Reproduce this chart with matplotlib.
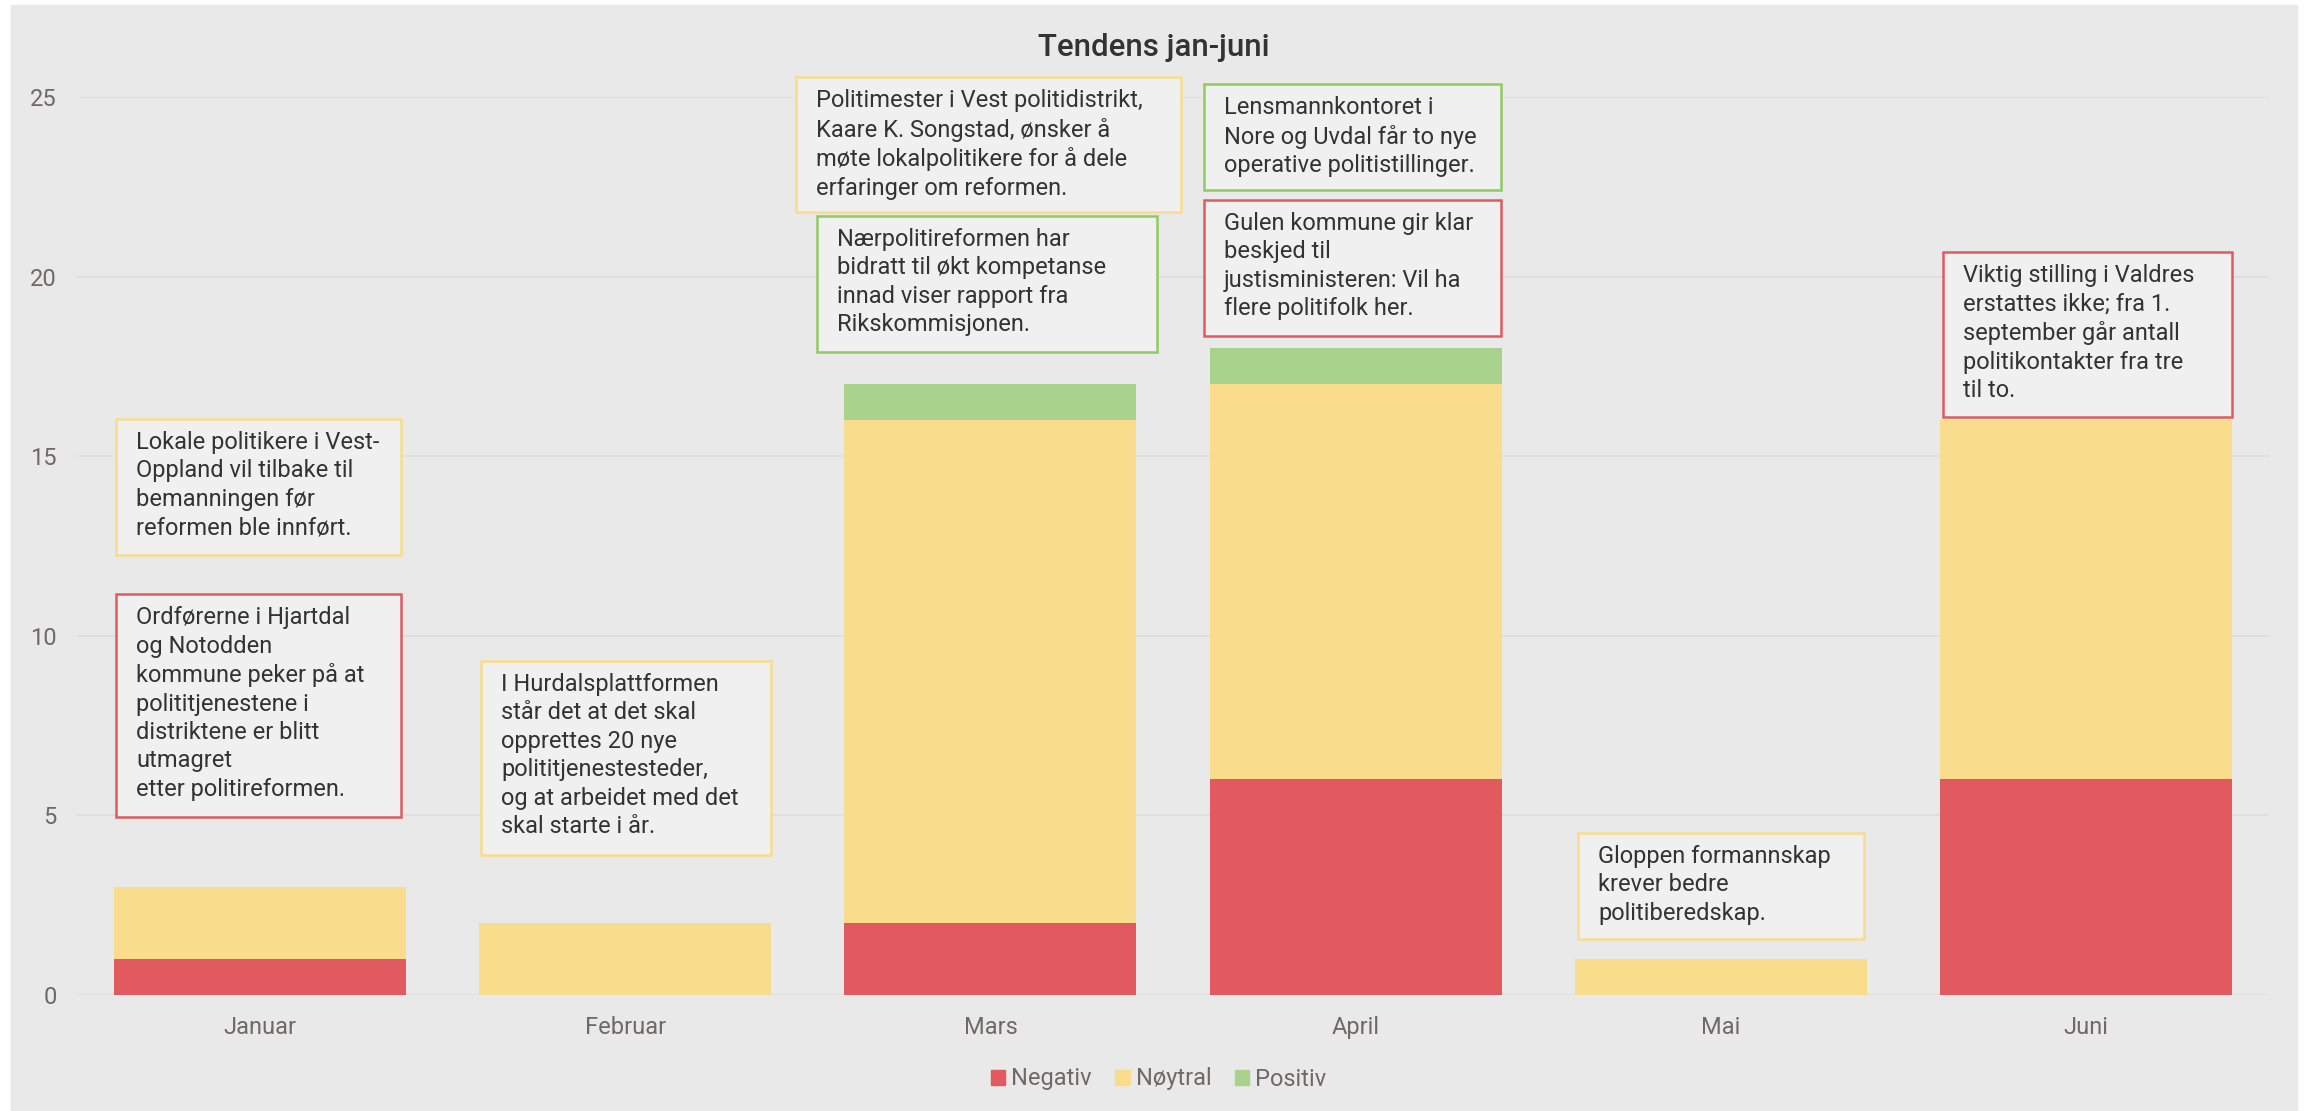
import numpy as np
from matplotlib import pyplot as plt
from matplotlib.patches import Rectangle, Patch

plt.rcParams["font.family"] = ["Roboto", "DejaVu Sans"]

months = ["Januar", "Februar", "Mars", "April", "Mai", "Juni"]
negativ = [1, 0, 2, 6, 0, 6]
noytral = [2, 2, 14, 11, 1, 10]
positiv = [0, 0, 1, 1, 0, 0]
series_names = ["Negativ", "Nøytral", "Positiv"]
y_ticks = [0, 5, 10, 15, 20, 25]

BG = "#e8e9e8"
RED = "#e15a60"
YELLOW = "#fadd8c"
GREEN = "#a9d38d"
EDGE_RED = "#e15a60"
EDGE_YELLOW = "#f9dc8c"
EDGE_GREEN = "#8fcb5e"
TEXT = "#333333"
TICK = "#6e6a6a"

# annotation boxes: (text, colour, x-left, x-right, y-top, y-bottom) in data units
notes = [
    ("Lokale politikere i Vest-\nOppland vil tilbake til\nbemanningen før\nreformen ble innført.",
     EDGE_YELLOW, -0.394, 0.386, 16.04, 12.25),
    ("Ordførerne i Hjartdal\nog Notodden\nkommune peker på at\npolititjenestene i\ndistriktene er blitt\nutmagret\netter politireformen.",
     EDGE_RED, -0.394, 0.386, 11.16, 4.96),
    ("I Hurdalsplattformen\nstår det at det skal\nopprettes 20 nye\npolititjenestesteder,\nog at arbeidet med det\nskal starte i år.",
     EDGE_YELLOW, 0.605, 1.40, 9.30, 3.90),
    ("Politimester i Vest politidistrikt,\nKaare K. Songstad, ønsker å\nmøte lokalpolitikere for å dele\nerfaringer om reformen.",
     EDGE_YELLOW, 1.468, 2.522, 25.56, 21.80),
    ("Nærpolitireformen har\nbidratt til økt kompetanse\ninnad viser rapport fra\nRikskommisjonen.",
     EDGE_GREEN, 1.525, 2.456, 21.69, 17.90),
    ("Lensmannkontoret i\nNore og Uvdal får to nye\noperative politistillinger.",
     EDGE_GREEN, 2.585, 3.398, 25.36, 22.41),
    ("Gulen kommune gir klar\nbeskjed til\njustisministeren: Vil ha\nflere politifolk her.",
     EDGE_RED, 2.585, 3.398, 22.13, 18.35),
    ("Gloppen formannskap\nkrever bedre\npolitiberedskap.",
     EDGE_YELLOW, 3.609, 4.392, 4.51, 1.56),
    ("Viktig stilling i Valdres\nerstattes ikke; fra 1.\nseptember går antall\npolitikontakter fra tre\ntil to.",
     EDGE_RED, 4.609, 5.400, 20.68, 16.10),
]


def main():
    W, H = 2308, 1111
    fig = plt.figure(figsize=(W / 100, H / 100), dpi=100)
    fig.patches.append(Rectangle((11 / W, 0), (W - 22) / W, (H - 5) / H,
                                 transform=fig.transFigure, color=BG, zorder=-10))

    ax = fig.add_axes([77.4 / W, 1 - 995 / H, (2268.6 - 77.4) / W, (995 - 97) / H])
    ax.set_facecolor("none")
    ax.set_zorder(2)

    x = np.arange(len(months))
    neg = np.array(negativ)
    noy = np.array(noytral)
    pos = np.array(positiv)
    ax.bar(x, neg, width=0.8, color=RED, zorder=2)
    ax.bar(x, noy, width=0.8, bottom=neg, color=YELLOW, zorder=2)
    ax.bar(x, pos, width=0.8, bottom=neg + noy, color=GREEN, zorder=2)

    ax.set_xlim(-0.5, len(months) - 0.5)
    ax.set_ylim(0, 25)
    ax.set_yticks(y_ticks)
    for t in y_ticks:
        ax.axhline(t, color="#dcdddc", lw=1.2, zorder=1)
    ax.set_xticks(x)
    ax.set_xticklabels(months)
    ax.tick_params(axis="both", length=0, labelsize=17, colors=TICK)
    ax.tick_params(axis="x", pad=15)
    ax.tick_params(axis="y", pad=15)
    for s in ax.spines.values():
        s.set_visible(False)

    px = 1.0 / 365.2
    py = 1.0 / 35.92
    for text, ec, x0, x1, y0, y1 in notes:
        ax.add_patch(Rectangle((x0, y1), x1 - x0, y0 - y1, facecolor="#f0f0f0",
                               edgecolor=ec, lw=1.8, zorder=4, clip_on=False))
        ax.text(x0 + 20 * px, y0 - 12 * py, text, ha="left", va="top",
                fontsize=17, color=TEXT, linespacing=1.3, zorder=5, clip_on=False)

    fig.text(0.5, 1 - 48 / H, "Tendens jan-juni", ha="center", va="center",
             fontsize=22.5, color=TEXT, fontweight="medium")

    handles = [Patch(color=c) for c in (RED, YELLOW, GREEN)]
    fig.legend(handles, series_names, loc="center", bbox_to_anchor=(0.502, 1 - 1079 / H),
               ncol=3, frameon=False, fontsize=17, labelcolor=TICK,
               handlelength=0.6, handleheight=0.6, handletextpad=0.25, columnspacing=1.0)

    fig.savefig("out.png", dpi=100)


if __name__ == "__main__":
    main()
